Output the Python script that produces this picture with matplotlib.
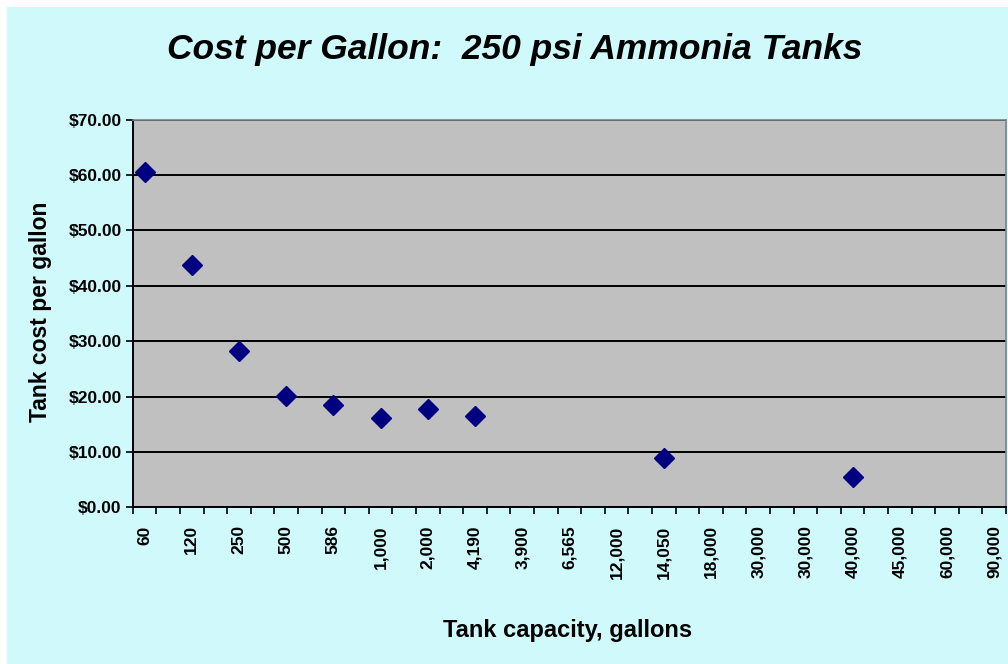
import numpy as np
import matplotlib.pyplot as plt
from matplotlib.patches import Rectangle

# data (Excel shows every other category label)
capacity_labels = ["60", "120", "250", "500", "586", "1,000", "2,000", "4,190", "3,900",
                   "6,565", "12,000", "14,050", "18,000", "30,000", "30,000", "40,000",
                   "45,000", "60,000", "90,000"]
cost_per_gallon = [60.6, 43.8, 28.2, 20.1, 18.5, 16.2, 17.8, 16.5, np.nan,
                   np.nan, np.nan, 8.9, np.nan, np.nan, np.nan, 5.5,
                   np.nan, np.nan, np.nan]
y_ticks = [0, 10, 20, 30, 40, 50, 60, 70]

plt.rcParams['font.family'] = ['Liberation Sans', 'DejaVu Sans']

fig = plt.figure(figsize=(10.08, 6.64), dpi=100, facecolor='white')
# light turquoise chart area with a thin white margin top/left
fig.patches.append(Rectangle((7 / 1008, 0), 1 - 7 / 1008, 1 - 7 / 664,
                             transform=fig.transFigure, facecolor='#D0F9FC',
                             edgecolor='none', zorder=-10))

ax = fig.add_axes([0.1317, 0.236, 0.998 - 0.1317, 0.8197 - 0.236])
ax.set_facecolor('#C0C0C0')

x = np.arange(len(capacity_labels))
ax.plot(x, cost_per_gallon, linestyle='none', marker='D', markersize=10,
        color='#000080', zorder=3, clip_on=False)

ax.set_xlim(-0.25, len(capacity_labels) - 0.75)
ax.set_ylim(0, 70)

ax.set_yticks(y_ticks)
ax.set_yticklabels([f"${v:.2f}" for v in y_ticks], fontsize=12.5, fontweight='bold')
ax.yaxis.grid(True, color='black', linewidth=1.4)
ax.set_axisbelow(True)

ax.set_xticks(x)
ax.set_xticklabels(capacity_labels, rotation=90, fontsize=12.5, fontweight='bold')
ax.set_xticks(np.arange(-0.25, len(capacity_labels) - 0.5, 0.5), minor=True)
ax.tick_params(axis='x', which='major', length=0, pad=13)
ax.tick_params(axis='x', which='minor', length=5, width=1.2, direction='out')
ax.tick_params(axis='y', length=5, width=1.2, direction='out', pad=3)

for side in ['left', 'bottom']:
    ax.spines[side].set_color('black')
    ax.spines[side].set_linewidth(1.4)
for side in ['top', 'right']:
    ax.spines[side].set_color('#808080')
    ax.spines[side].set_linewidth(1.2)

fig.text(0.511, 0.925, "Cost per Gallon:  250 psi Ammonia Tanks", ha='center', va='center',
         fontsize=25.5, fontweight='bold', fontstyle='italic')
fig.text(0.040, 0.53, "Tank cost per gallon", ha='center', va='center', rotation=90,
         fontsize=16.5, fontweight='bold')
fig.text(0.563, 0.050, "Tank capacity, gallons", ha='center', va='center',
         fontsize=17, fontweight='bold')

fig.savefig('out.png', dpi=100, facecolor=fig.get_facecolor())
